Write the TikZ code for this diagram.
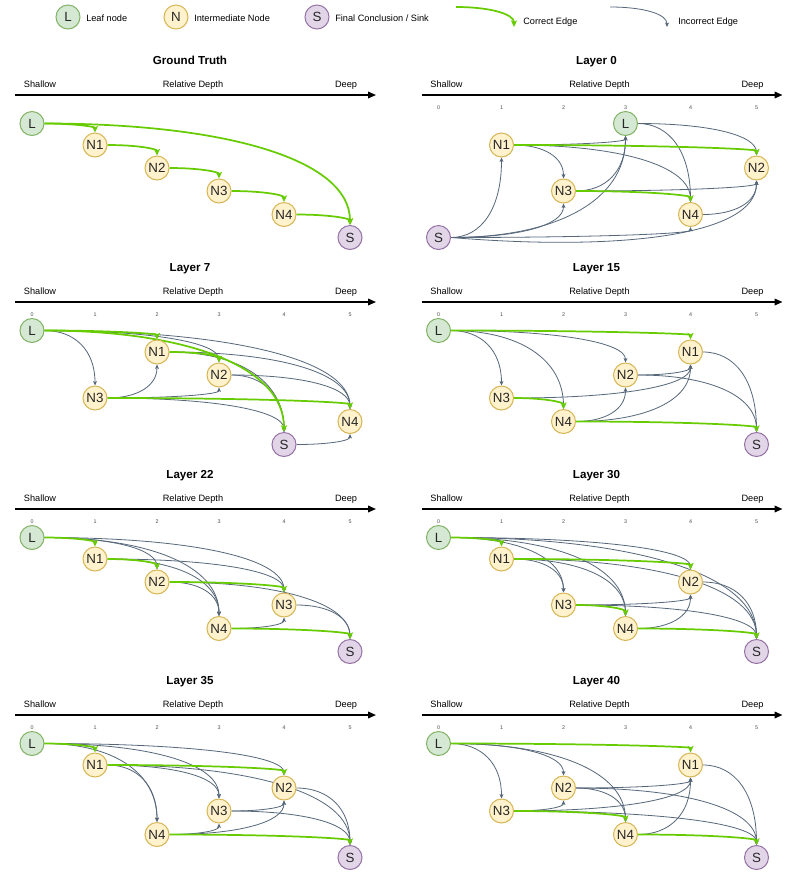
\documentclass[tikz,border=0pt]{standalone}
\usepackage{fontspec}
\setmainfont{Liberation Sans}
\usetikzlibrary{arrows.meta,calc}
\pgfdeclarelayer{bg}
\pgfsetlayers{bg,main}
\definecolor{leafF}{HTML}{D5E8D4}\definecolor{leafD}{HTML}{82B366}
\definecolor{midF}{HTML}{FFF2CC}\definecolor{midD}{HTML}{D6B656}
\definecolor{sinkF}{HTML}{E1D5E7}\definecolor{sinkD}{HTML}{9673A6}
\definecolor{okc}{HTML}{66CC00}
\definecolor{badc}{HTML}{56677A}
\tikzset{
 gnode/.style={circle, minimum size=18pt, inner sep=0pt, line width=0.75pt, font=\fontsize{10}{12}\selectfont, text=black!85},
 leaf/.style={gnode, fill=leafF, draw=leafD},
 mid/.style={gnode, fill=midF, draw=midD},
 sink/.style={gnode, fill=sinkF, draw=sinkD},
 cv/.style={to path={.. controls ($(\tikztostart)!0.6!(\tikztotarget |- \tikztostart)$) and ($(\tikztotarget)!0.64!(\tikztotarget |- \tikztostart)$) .. (\tikztotarget)}},
 good/.style={draw=okc, line width=1.3pt, -{Stealth[length=5pt,width=4.6pt,inset=1.2pt]}, cv},
 bad/.style={draw=badc, line width=0.6pt, -{Stealth[length=3.2pt,width=2.8pt,inset=0.6pt]}, cv},
 txt/.style={inner sep=0pt, text height=1.6ex, text depth=0.4ex},
 ttl/.style={txt, font=\bfseries\fontsize{8.7}{10}\selectfont},
 axl/.style={txt, font=\fontsize{6.9}{8}\selectfont},
 ticklbl/.style={txt, font=\fontsize{4}{5}\selectfont, text=black!70},
 axisline/.style={line width=1.1pt, -{Triangle[length=6pt,width=5pt]}},
}
\def\colx{{32,95,157,219,284,350}}
\def\rowy{{28.5,50,73,96,119.5,142.5}}
\newcommand\frm[2]{% prefix, title
 \node[ttl] (#1-t) at ({190+\xo},{\A-35}) {#2};
 \node[axl] (#1-sh) at ({40+\xo},{\A-12}) {Shallow};
 \node[axl] (#1-rd) at ({193+\xo},{\A-12}) {Relative Depth};
 \node[axl] (#1-dp) at ({346+\xo},{\A-12}) {Deep};
 \coordinate (#1-a0) at ({15+\xo},\A);
 \coordinate (#1-a1) at ({376+\xo},\A);
 \draw[axisline] (#1-a0) -- (#1-a1);
}
\newcommand\tks[1]{%
 \foreach \i in {0,...,5}{\node[ticklbl] (#1-k\i) at ({\colx[\i]+\xo},{\A+10.5}) {\i};}
}
\newcommand\nd[5]{\node[#2] (#1) at ({\colx[#4]+\xo},{\rowy[#5]+\A}) {#3};}
\newcommand\gd[2]{\draw[good] (#1.east) to (#2.north);}
\newcommand\bd[2]{\draw[bad] (#1.east) to (#2.north);}
\newcommand\bu[2]{\draw[bad] (#1.east) to (#2.south);}
\begin{document}
\begin{tikzpicture}[x=0.75pt,y=-0.75pt]
\useasboundingbox (0,0) rectangle (793,876);
\begin{pgfonlayer}{bg}
\fill[white] (0,0) rectangle (793,876);
\end{pgfonlayer}
% legend
\node[leaf] (lgL) at (68,17) {L};
\node[axl, anchor=west] (lgLt) at (86,17) {Leaf node};
\node[mid] (lgN) at (176,17) {N};
\node[axl, anchor=west] (lgNt) at (194,17) {Intermediate Node};
\node[sink] (lgS) at (317,17) {S};
\node[axl, anchor=west] (lgSt) at (335,17) {Final Conclusion / Sink};
\coordinate (lg1) at (456,7); \coordinate (lg2) at (514,27);
\draw[good] (lg1) to (lg2);
\node[axl, anchor=west] (lgGt) at (523,20) {Correct Edge};
\coordinate (lg3) at (610,7); \coordinate (lg4) at (667,27);
\draw[bad] (lg3) to (lg4);
\node[axl, anchor=west] (lgBt) at (678,20) {Incorrect Edge};

% ---------- Ground truth
\def\xo{0}\def\A{95}
\frm{g}{Ground Truth}
\nd{g-L}{leaf}{L}{0}{0}\nd{g-N1}{mid}{N1}{1}{1}\nd{g-N2}{mid}{N2}{2}{2}
\nd{g-N3}{mid}{N3}{3}{3}\nd{g-N4}{mid}{N4}{4}{4}\nd{g-S}{sink}{S}{5}{5}
\begin{pgfonlayer}{bg}
\gd{g-L}{g-N1}\gd{g-N1}{g-N2}\gd{g-N2}{g-N3}\gd{g-N3}{g-N4}\gd{g-N4}{g-S}\gd{g-L}{g-S}
\end{pgfonlayer}

% ---------- Layer 0
\def\xo{406.5}\def\A{95}
\frm{a}{Layer 0}\tks{a}
\nd{a-L}{leaf}{L}{3}{0}\nd{a-N1}{mid}{N1}{1}{1}\nd{a-N2}{mid}{N2}{5}{2}
\nd{a-N3}{mid}{N3}{2}{3}\nd{a-N4}{mid}{N4}{4}{4}\nd{a-S}{sink}{S}{0}{5}
\begin{pgfonlayer}{bg}
\bd{a-L}{a-N2}\bd{a-L}{a-N4}\bu{a-N1}{a-L}\bd{a-N1}{a-N3}\bd{a-N1}{a-N4}
\bu{a-N3}{a-L}\bu{a-N3}{a-N2}\bu{a-N4}{a-N2}
\bu{a-S}{a-N1}\bu{a-S}{a-N3}\bu{a-S}{a-L}\bu{a-S}{a-N4}
\draw[bad] (a-S.east) .. controls +(170,14) and +(0,55) .. (a-N2.south);
\gd{a-N1}{a-N2}\gd{a-N3}{a-N4}
\end{pgfonlayer}

% ---------- Layer 7
\def\xo{0}\def\A{302}
\frm{b}{Layer 7}\tks{b}
\nd{b-L}{leaf}{L}{0}{0}\nd{b-N1}{mid}{N1}{2}{1}\nd{b-N2}{mid}{N2}{3}{2}
\nd{b-N3}{mid}{N3}{1}{3}\nd{b-N4}{mid}{N4}{5}{4}\nd{b-S}{sink}{S}{4}{5}
\begin{pgfonlayer}{bg}
\bd{b-L}{b-N3}\bd{b-L}{b-N2}\bd{b-L}{b-N4}\bd{b-N1}{b-S}\bd{b-N1}{b-N4}
\bd{b-N2}{b-S}\bd{b-N2}{b-N4}\bu{b-N3}{b-N1}\bu{b-N3}{b-N2}\bd{b-N3}{b-S}\bu{b-S}{b-N4}
\gd{b-L}{b-N1}\gd{b-L}{b-S}\gd{b-N1}{b-N2}\gd{b-N3}{b-N4}
\end{pgfonlayer}

% ---------- Layer 15
\def\xo{406.5}\def\A{302}
\frm{c}{Layer 15}\tks{c}
\nd{c-L}{leaf}{L}{0}{0}\nd{c-N1}{mid}{N1}{4}{1}\nd{c-N2}{mid}{N2}{3}{2}
\nd{c-N3}{mid}{N3}{1}{3}\nd{c-N4}{mid}{N4}{2}{4}\nd{c-S}{sink}{S}{5}{5}
\begin{pgfonlayer}{bg}
\bd{c-L}{c-N3}\bd{c-L}{c-N4}\bd{c-L}{c-N2}\bd{c-N1}{c-S}\bu{c-N2}{c-N1}\bd{c-N2}{c-S}
\bu{c-N3}{c-N1}\bu{c-N4}{c-N2}\bu{c-N4}{c-N1}
\gd{c-L}{c-N1}\gd{c-N3}{c-N4}\gd{c-N4}{c-S}
\end{pgfonlayer}

% ---------- Layer 22
\def\xo{0}\def\A{509}
\frm{d}{Layer 22}\tks{d}
\nd{d-L}{leaf}{L}{0}{0}\nd{d-N1}{mid}{N1}{1}{1}\nd{d-N2}{mid}{N2}{2}{2}
\nd{d-N3}{mid}{N3}{4}{3}\nd{d-N4}{mid}{N4}{3}{4}\nd{d-S}{sink}{S}{5}{5}
\begin{pgfonlayer}{bg}
\bd{d-L}{d-N2}\bd{d-L}{d-N4}\bd{d-L}{d-N3}\bd{d-N1}{d-N4}\bd{d-N1}{d-N3}
\bd{d-N2}{d-N4}\bd{d-N2}{d-S}\bd{d-N3}{d-S}\bu{d-N4}{d-N3}
\gd{d-L}{d-N1}\gd{d-N1}{d-N2}\gd{d-N2}{d-N3}\gd{d-N4}{d-S}
\end{pgfonlayer}

% ---------- Layer 30
\def\xo{406.5}\def\A{509}
\frm{e}{Layer 30}\tks{e}
\nd{e-L}{leaf}{L}{0}{0}\nd{e-N1}{mid}{N1}{1}{1}\nd{e-N2}{mid}{N2}{4}{2}
\nd{e-N3}{mid}{N3}{2}{3}\nd{e-N4}{mid}{N4}{3}{4}\nd{e-S}{sink}{S}{5}{5}
\begin{pgfonlayer}{bg}
\bd{e-L}{e-N3}\bd{e-L}{e-N4}\bd{e-L}{e-N2}\bd{e-L}{e-S}\bd{e-N1}{e-N3}\bd{e-N1}{e-N4}
\bd{e-N1}{e-S}\bd{e-N2}{e-S}\bu{e-N3}{e-N2}\bd{e-N3}{e-S}\bu{e-N4}{e-N2}
\gd{e-L}{e-N1}\gd{e-N1}{e-N2}\gd{e-N3}{e-N4}\gd{e-N4}{e-S}
\end{pgfonlayer}

% ---------- Layer 35
\def\xo{0}\def\A{715}
\frm{f}{Layer 35}\tks{f}
\nd{f-L}{leaf}{L}{0}{0}\nd{f-N1}{mid}{N1}{1}{1}\nd{f-N2}{mid}{N2}{4}{2}
\nd{f-N3}{mid}{N3}{3}{3}\nd{f-N4}{mid}{N4}{2}{4}\nd{f-S}{sink}{S}{5}{5}
\begin{pgfonlayer}{bg}
\bd{f-L}{f-N4}\bd{f-L}{f-N3}\bd{f-L}{f-N2}\bd{f-N1}{f-N3}\bd{f-N1}{f-N4}\bd{f-N1}{f-S}
\bd{f-N2}{f-S}\bu{f-N3}{f-N2}\bd{f-N3}{f-S}\bu{f-N4}{f-N3}\bu{f-N4}{f-N2}
\gd{f-L}{f-N1}\gd{f-N1}{f-N2}\gd{f-N4}{f-S}
\end{pgfonlayer}

% ---------- Layer 40
\def\xo{406.5}\def\A{715}
\frm{h}{Layer 40}\tks{h}
\nd{h-L}{leaf}{L}{0}{0}\nd{h-N1}{mid}{N1}{4}{1}\nd{h-N2}{mid}{N2}{2}{2}
\nd{h-N3}{mid}{N3}{1}{3}\nd{h-N4}{mid}{N4}{3}{4}\nd{h-S}{sink}{S}{5}{5}
\begin{pgfonlayer}{bg}
\bd{h-L}{h-N3}\bd{h-L}{h-N2}\bd{h-L}{h-N4}\bd{h-N1}{h-S}\bu{h-N2}{h-N1}\bd{h-N2}{h-N4}
\bd{h-N2}{h-S}\bu{h-N3}{h-N2}\bu{h-N3}{h-N1}\bd{h-N3}{h-S}\bu{h-N4}{h-N1}
\gd{h-L}{h-N1}\gd{h-N3}{h-N4}\gd{h-N4}{h-S}
\end{pgfonlayer}
\end{tikzpicture}
\end{document}
